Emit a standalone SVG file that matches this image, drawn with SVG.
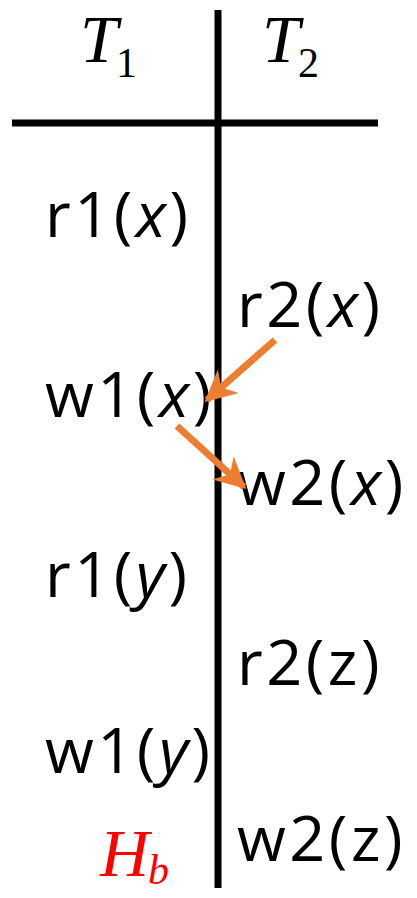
<svg xmlns="http://www.w3.org/2000/svg" width="417" height="898" viewBox="0 0 417 898">
<style>
.op{font-family:"Open Sans","Noto Sans",sans-serif;font-size:63px;letter-spacing:3.5px;fill:#000}
.v{font-style:italic}
.hd{font-family:"Liberation Serif","DejaVu Serif",serif;font-style:italic;font-size:68px;fill:#000}
.sub{font-family:"Liberation Serif","DejaVu Serif",serif;font-size:42px;fill:#000}
.rule{stroke:#000;stroke-width:7;fill:none}
.arr{stroke:#ED7D31;stroke-width:7;fill:none;marker-end:url(#ah)}
</style>
<defs>
<marker id="ah" viewBox="0 0 10 10" refX="9" refY="5" markerWidth="4.5" markerHeight="4.5" orient="auto" markerUnits="strokeWidth">
<path d="M0,0 L10,5 L0,10 L3,5 Z" fill="#ED7D31"/>
</marker>
</defs>
<g id="grid">
<line class="rule" x1="218" y1="10" x2="218" y2="888"/>
<line class="rule" x1="12" y1="123" x2="378" y2="123"/>
</g>
<g id="T1"><text class="hd" x="80" y="62">T</text><text class="sub" x="116" y="77">1</text></g>
<g id="T2"><text class="hd" x="262" y="62">T</text><text class="sub" x="298" y="77">2</text></g>
<g id="r1x"><text class="op" x="45" y="237">r1(<tspan class="v">x</tspan>)</text></g>
<g id="r2x"><text class="op" x="237" y="327">r2(<tspan class="v">x</tspan>)</text></g>
<g id="w1x"><text class="op" x="45" y="417">w1(<tspan class="v">x</tspan>)</text></g>
<g id="w2x"><text class="op" x="237" y="505">w2(<tspan class="v">x</tspan>)</text></g>
<g id="r1y"><text class="op" x="45" y="597">r1(<tspan class="v">y</tspan>)</text></g>
<g id="r2z"><text class="op" x="237" y="685">r2(z)</text></g>
<g id="w1y"><text class="op" x="45" y="773">w1(<tspan class="v">y</tspan>)</text></g>
<g id="w2z"><text class="op" x="237" y="861">w2(z)</text></g>
<g id="Hb"><text class="hd" x="100" y="876" style="fill:#FF0000">H</text><text class="sub" x="148" y="884" style="fill:#FF0000;font-style:italic">b</text></g>
<g id="connectors">
<line class="arr" x1="275" y1="340" x2="207" y2="400"/>
<line class="arr" x1="177" y1="426" x2="244" y2="487"/>
</g>
</svg>
